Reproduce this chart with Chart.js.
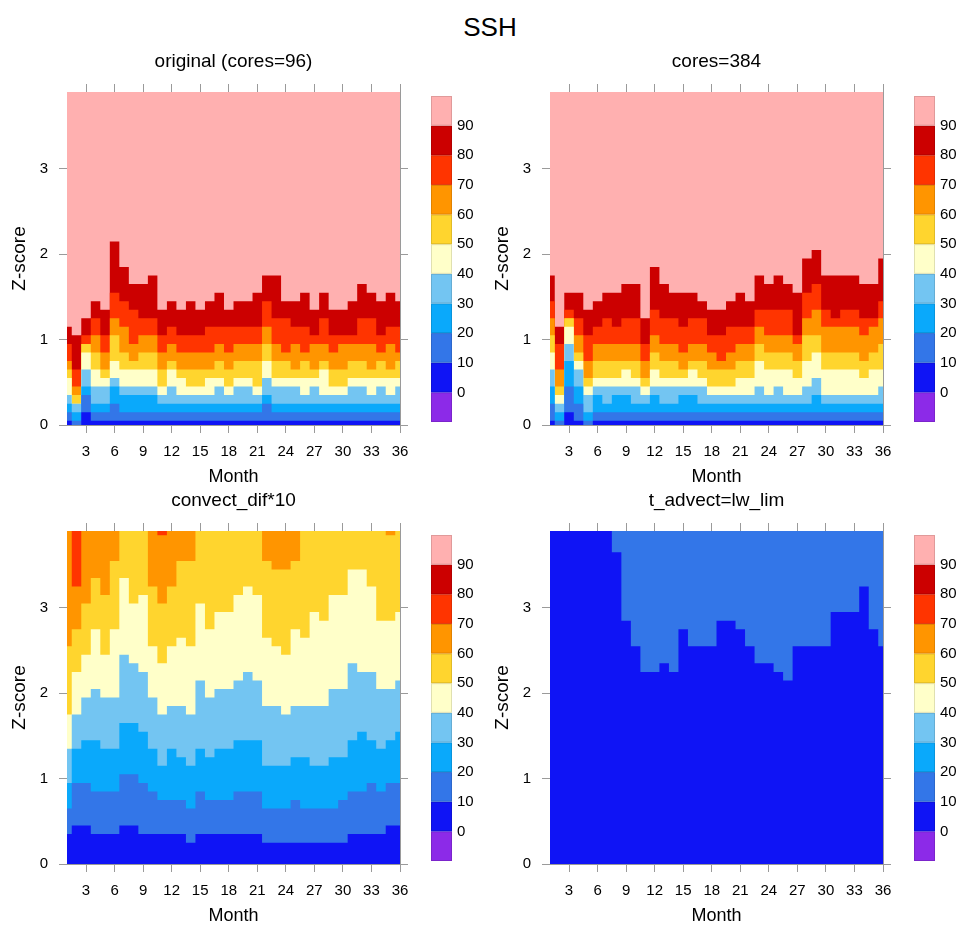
<!DOCTYPE html>
<html>
<head>
<meta charset="utf-8">
<script src="https://cdn.jsdelivr.net/npm/chart.js@4.4.0/dist/chart.umd.min.js"></script>
<style>
  html, body { margin: 0; padding: 0; background: #fff; overflow: hidden; }
  #wrap { position: relative; width: 960px; height: 925px; }
  #wrap canvas { position: absolute; }
  #title { position: absolute; left: 0; width: 980px; top: 12px; text-align: center;
           font: 26px "Liberation Sans", Arial, sans-serif; color: #000; }
</style>
</head>
<body>
<div id="wrap">
  <div id="title">SSH</div>
  <canvas id="c0" width="480" height="455" style="left:0;top:40px"></canvas>
  <canvas id="c1" width="480" height="455" style="left:483px;top:40px"></canvas>
  <canvas id="c2" width="480" height="455" style="left:0;top:479px"></canvas>
  <canvas id="c3" width="480" height="455" style="left:483px;top:479px"></canvas>
</div>
<script>
const months = [1,2,3,4,5,6,7,8,9,10,11,12,13,14,15,16,17,18,19,20,21,22,23,24,25,26,27,28,29,30,31,32,33,34,35,36];
const monthTicks = [3,6,9,12,15,18,21,24,27,30,33,36];
const zTicks = [0,1,2,3];
const yMax = 3.9;
const levels = ['0','10','20','30','40','50','60','70','80','90'];

// band colours, bottom (below 0) to top (above 90)
const bandColors = ['#8c2ae8','#0f14f5','#3376e8','#0aa9fb','#73c5f2','#ffffc9',
                    '#ffd52e','#ff9500','#ff3400','#cc0000','#ffb0b0'];

// Z-score where each percentile level is reached, per month
// original (cores=96)
const tlP10 = [.05,0,.15,.05,.05,.05,.05,.05,.05,.05,.05,.05,.05,.05,.05,.05,.05,.05,.05,.05,.05,.05,.05,.05,.05,.05,.05,.05,.05,.05,.05,.05,.05,.05,.05,.05];
const tlP20 = [.15,.05,.35,.15,.15,.25,.15,.15,.15,.15,.15,.15,.15,.15,.15,.15,.15,.15,.15,.15,.15,.25,.15,.15,.15,.15,.15,.15,.15,.15,.15,.15,.15,.15,.15,.15];
const tlP30 = [.25,.15,.45,.25,.25,.45,.35,.35,.35,.35,.25,.25,.25,.25,.25,.25,.25,.25,.25,.25,.25,.35,.25,.25,.25,.25,.25,.25,.25,.25,.25,.25,.25,.25,.25,.25];
const tlP40 = [.35,.25,.65,.45,.45,.55,.45,.45,.45,.45,.35,.45,.35,.35,.35,.35,.45,.35,.45,.45,.35,.55,.45,.45,.45,.35,.45,.35,.35,.35,.45,.45,.35,.45,.35,.45];
const tlP50 = [.55,.25,.85,.65,.55,.75,.65,.65,.65,.65,.45,.65,.55,.45,.45,.55,.55,.45,.55,.55,.45,.75,.55,.55,.55,.55,.55,.65,.45,.45,.55,.55,.55,.55,.55,.55];
const tlP60 = [.65,.35,.95,.85,.65,1.05,.85,.75,.85,.85,.65,.75,.65,.65,.65,.65,.75,.65,.75,.75,.75,.95,.75,.75,.65,.75,.65,.75,.65,.65,.75,.75,.65,.75,.65,.75];
const tlP70 = [.75,.45,.95,1.05,.85,1.25,1.15,.95,1.05,1.05,.85,.95,.85,.85,.85,.85,.95,.85,.95,.95,.95,1.15,.95,.85,.95,.85,.95,.95,.85,.95,.95,.95,.95,.85,.95,.85];
const tlP80 = [.95,.65,1.05,1.25,1.05,1.55,1.45,1.35,1.25,1.25,1.05,1.15,1.05,1.05,1.05,1.15,1.15,1.15,1.15,1.15,1.15,1.45,1.25,1.25,1.15,1.15,1.05,1.25,1.05,1.05,1.05,1.25,1.25,1.05,1.15,1.15];
const tlP90 = [1.15,1.05,1.25,1.45,1.35,2.15,1.85,1.65,1.65,1.75,1.35,1.45,1.35,1.45,1.35,1.45,1.55,1.35,1.45,1.45,1.55,1.75,1.75,1.45,1.45,1.55,1.35,1.55,1.35,1.35,1.45,1.65,1.55,1.45,1.55,1.45];

// cores=384
const trP10 = [.05,0,.15,.05,0,.05,.05,.05,.05,.05,.05,.05,.05,.05,.05,.05,.05,.05,.05,.05,.05,.05,.05,.05,.05,.05,.05,.05,.05,.05,.05,.05,.05,.05,.05,.05];
const trP20 = [.25,.05,.45,.25,.05,.15,.15,.15,.15,.15,.15,.15,.15,.15,.15,.15,.15,.15,.15,.15,.15,.15,.15,.15,.15,.15,.15,.15,.15,.15,.15,.15,.15,.15,.15,.15];
const trP30 = [.45,.15,.75,.45,.15,.35,.25,.35,.35,.25,.25,.35,.25,.25,.35,.35,.25,.25,.25,.25,.25,.25,.25,.25,.25,.25,.25,.25,.35,.25,.25,.25,.25,.25,.25,.25];
const trP40 = [.65,.25,.95,.65,.35,.45,.45,.45,.45,.45,.35,.45,.45,.45,.45,.45,.45,.35,.35,.35,.35,.35,.45,.35,.45,.35,.35,.45,.55,.35,.35,.35,.35,.35,.35,.45];
const trP50 = [.85,.35,1.15,.75,.45,.55,.55,.55,.65,.55,.45,.65,.55,.55,.55,.65,.55,.45,.45,.45,.55,.55,.75,.65,.65,.65,.55,.75,.85,.65,.65,.65,.65,.55,.65,.65];
const trP60 = [1.05,.45,1.25,.85,.55,.75,.75,.75,.75,.75,.55,.85,.75,.75,.65,.75,.75,.65,.65,.65,.75,.75,.95,.85,.85,.85,.75,1.05,1.05,.85,.85,.85,.85,.75,.85,.95];
const trP70 = [1.25,.65,1.25,1.05,.75,.95,.95,.95,.95,.95,.75,1.05,.95,.95,.85,.95,.95,.85,.75,.85,.95,.95,1.15,1.05,1.05,1.05,.95,1.25,1.35,1.15,1.15,1.15,1.15,1.05,1.15,1.25];
const trP80 = [1.45,.95,1.35,1.25,1.05,1.15,1.25,1.15,1.25,1.25,.95,1.35,1.25,1.25,1.15,1.25,1.25,1.05,1.05,1.15,1.15,1.15,1.35,1.35,1.35,1.35,1.05,1.55,1.65,1.35,1.25,1.35,1.35,1.25,1.25,1.45];
const trP90 = [1.75,1.15,1.55,1.55,1.35,1.45,1.55,1.55,1.65,1.65,1.25,1.85,1.65,1.55,1.55,1.55,1.45,1.35,1.35,1.45,1.55,1.45,1.75,1.65,1.75,1.65,1.55,1.95,2.05,1.75,1.75,1.75,1.75,1.65,1.65,1.95];

// convect_dif*10
const blP10 = [.35,.45,.45,.35,.35,.35,.45,.45,.35,.35,.35,.35,.35,.25,.35,.35,.35,.35,.35,.35,.35,.25,.25,.25,.25,.25,.25,.25,.25,.25,.35,.35,.35,.35,.45,.45];
const blP20 = [.65,.95,.95,.85,.85,.85,1.05,1.05,.95,.85,.75,.75,.75,.65,.85,.75,.75,.75,.85,.85,.85,.65,.65,.65,.75,.65,.65,.65,.65,.75,.85,.85,.95,.85,.95,.95];
const blP30 = [.95,1.35,1.45,1.45,1.35,1.35,1.65,1.65,1.55,1.35,1.15,1.35,1.25,1.15,1.35,1.25,1.35,1.35,1.45,1.45,1.45,1.15,1.15,1.15,1.25,1.25,1.15,1.15,1.25,1.25,1.45,1.55,1.45,1.35,1.45,1.55];
const blP40 = [1.35,1.75,1.95,2.05,1.95,1.95,2.45,2.35,2.25,1.95,1.75,1.85,1.85,1.75,2.15,1.95,2.05,2.05,2.15,2.25,2.15,1.85,1.85,1.75,1.85,1.85,1.85,1.85,2.05,2.05,2.35,2.25,2.25,2.05,2.05,2.15];
const blP50 = [1.75,2.25,2.45,2.75,2.45,2.75,3.35,3.05,3.15,2.55,2.35,2.55,2.65,2.55,3.05,2.75,2.95,2.95,3.15,3.25,3.15,2.65,2.55,2.45,2.75,2.65,2.95,2.85,3.15,3.15,3.45,3.45,3.25,2.85,2.85,2.95];
const blP60 = [2.55,2.75,3.05,3.35,3.15,3.55,3.9,3.9,3.9,3.25,3.05,3.25,3.55,3.55,3.9,3.9,3.9,3.9,3.9,3.9,3.9,3.55,3.45,3.45,3.55,3.9,3.9,3.9,3.9,3.9,3.9,3.9,3.9,3.9,3.85,3.9];
const blP70 = [3.9,3.25,3.9,3.9,3.9,3.9,3.9,3.9,3.9,3.9,3.85,3.9,3.9,3.9,3.9,3.9,3.9,3.9,3.9,3.9,3.9,3.9,3.9,3.9,3.9,3.9,3.9,3.9,3.9,3.9,3.9,3.9,3.9,3.9,3.9,3.9];

// t_advect=lw_lim
const brP10 = [3.9,3.9,3.9,3.9,3.9,3.9,3.9,3.65,2.85,2.55,2.25,2.25,2.35,2.25,2.75,2.55,2.55,2.55,2.85,2.85,2.75,2.55,2.35,2.35,2.25,2.15,2.55,2.55,2.55,2.55,2.95,2.95,2.95,3.25,2.75,2.55];

const full = months.map(() => yMax);
const family = '"Liberation Sans", Arial, Helvetica, sans-serif';
const axisGrey = '#9a9a9a';

// panel title + colour bar, drawn around the chart area
const panelDecor = {
  id: 'panelDecor',
  afterDraw(chart, args, opts) {
    const { ctx, chartArea: a } = chart;
    ctx.save();
    ctx.fillStyle = '#000';
    ctx.font = '19px ' + family;
    ctx.textAlign = 'center';
    ctx.textBaseline = 'middle';
    ctx.fillText(opts.title, (a.left + a.right) / 2, a.top - 30);

    const x0 = a.right + 31, w = 21;
    const top = a.top + 4, bottom = a.bottom - 3;
    const h = (bottom - top) / bandColors.length;
    bandColors.forEach((c, i) => {
      const y = bottom - (i + 1) * h;
      ctx.fillStyle = c;
      ctx.fillRect(x0, y, w, h);
      ctx.strokeStyle = 'rgba(0,0,0,0.12)';
      ctx.lineWidth = 1;
      ctx.strokeRect(x0 + 0.5, y + 0.5, w - 1, h - 1);
    });
    ctx.fillStyle = '#000';
    ctx.font = '15px ' + family;
    ctx.textAlign = 'left';
    levels.forEach((t, i) => {
      ctx.fillText(t, x0 + 26, bottom - (i + 1) * h);
    });
    ctx.restore();
  }
};

function bandSets(bounds) {
  const uppers = bounds.concat([full]);
  return uppers.map((arr, i) => ({
    data: months.map((m, j) => ({ x: m, y: arr[j] })),
    backgroundColor: bandColors[i + 1],
    borderColor: 'rgba(0,0,0,0)',
    borderWidth: 0,
    pointRadius: 0,
    stepped: 'middle',
    fill: 'origin'
  }));
}

function makePanel(id, title, bounds) {
  new Chart(document.getElementById(id), {
    type: 'line',
    data: { datasets: bandSets(bounds) },
    options: {
      responsive: false,
      animation: false,
      devicePixelRatio: 1,
      layout: { padding: { left: 0, right: 70, top: 42, bottom: 0 } },
      plugins: {
        legend: { display: false },
        tooltip: { enabled: false },
        panelDecor: { title: title }
      },
      scales: {
        x: {
          type: 'linear', min: 1, max: 36,
          afterBuildTicks: s => { s.ticks = monthTicks.map(v => ({ value: v })); },
          afterFit: s => { s.height = 70; },
          grid: { drawOnChartArea: false, tickLength: 8, color: axisGrey },
          border: { color: axisGrey },
          ticks: { color: '#000', font: { size: 15, family: family }, padding: 10, maxRotation: 0, autoSkip: false },
          title: { display: true, text: 'Month', color: '#000', font: { size: 18, family: family }, padding: { top: 0, bottom: 7 } }
        },
        xTop: {
          type: 'linear', position: 'top', min: 1, max: 36,
          afterBuildTicks: s => { s.ticks = monthTicks.map(v => ({ value: v })); },
          afterFit: s => { s.height = 10; },
          grid: { drawOnChartArea: false, tickLength: 8, color: axisGrey },
          border: { color: axisGrey },
          ticks: { display: false }
        },
        y: {
          min: 0, max: yMax,
          afterBuildTicks: s => { s.ticks = zTicks.map(v => ({ value: v })); },
          afterFit: s => { s.width = 67; },
          grid: { drawOnChartArea: false, tickLength: 8, color: axisGrey },
          border: { color: axisGrey },
          ticks: { color: '#000', font: { size: 15, family: family }, padding: 11 },
          title: { display: true, text: 'Z-score', color: '#000', font: { size: 19, family: family }, padding: { top: 8, bottom: 0 } }
        },
        yRight: {
          position: 'right', min: 0, max: yMax,
          afterBuildTicks: s => { s.ticks = zTicks.map(v => ({ value: v })); },
          afterFit: s => { s.width = 10; },
          grid: { drawOnChartArea: false, tickLength: 8, color: axisGrey },
          border: { color: axisGrey },
          ticks: { display: false }
        }
      }
    },
    plugins: [panelDecor]
  });
}

makePanel('c0', 'original (cores=96)', [tlP10, tlP20, tlP30, tlP40, tlP50, tlP60, tlP70, tlP80, tlP90]);
makePanel('c1', 'cores=384', [trP10, trP20, trP30, trP40, trP50, trP60, trP70, trP80, trP90]);
makePanel('c2', 'convect_dif*10', [blP10, blP20, blP30, blP40, blP50, blP60, blP70, full, full]);
makePanel('c3', 't_advect=lw_lim', [brP10, full, full, full, full, full, full, full, full]);
</script>
</body>
</html>
